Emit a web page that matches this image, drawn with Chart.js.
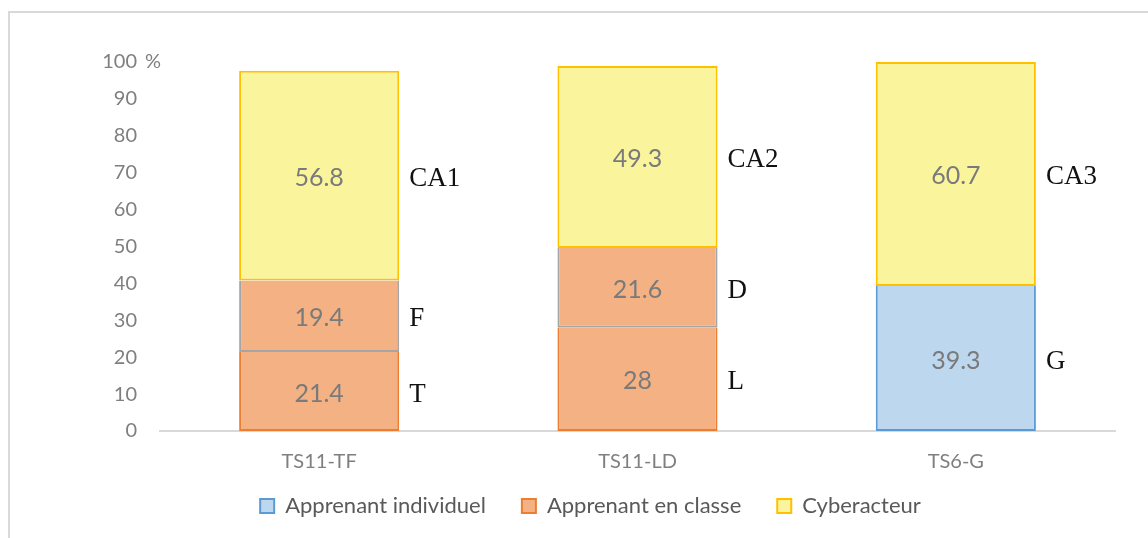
<!DOCTYPE html>
<html>
<head>
<meta charset="utf-8">
<script src="https://cdn.jsdelivr.net/npm/chart.js@4"></script>
<style>
  html, body { margin: 0; padding: 0; background: #fff; }
  #wrap { position: relative; width: 1148px; height: 538px; }
  #frame { position: absolute; left: 8px; top: 11px; right: 0; bottom: 0;
           border-top: 2px solid #d9d9d9; border-left: 2px solid #d9d9d9; }
  canvas { position: absolute; left: 0; top: 0; }
</style>
</head>
<body>
<div id="wrap">
  <div id="frame"></div>
  <canvas id="chart" width="1148" height="538"></canvas>
</div>
<script>
// categories
const groups = ["TS11-TF", "TS11-LD", "TS6-G"];

// series values (%), null = no segment
const individuel = [null, null, 39.3];
const classeBas = [21.4, 28, null];
const classeHaut = [19.4, 21.6, null];
const cyber = [56.8, 49.3, 60.7];

// side notes next to each segment
const notesIndividuel = ["", "", "G"];
const notesClasseBas = ["T", "L", ""];
const notesClasseHaut = ["F", "D", ""];
const notesCyber = ["CA1", "CA2", "CA3"];

const legendNames = ["Apprenant individuel", "Apprenant en classe", "Cyberacteur"];

const tickGrey = "#7f7f7f";

// value inside the segment, note letters to the right of it
const segmentText = {
    id: "segmentText",
    afterDatasetsDraw(chart) {
        const ctx = chart.ctx;
        ctx.save();
        chart.data.datasets.forEach((ds, i) => {
            const meta = chart.getDatasetMeta(i);
            meta.data.forEach((bar, j) => {
                const v = ds.data[j];
                if (v == null) return;
                const mid = (bar.y + bar.base) / 2;
                ctx.font = "25px Lato";
                ctx.fillStyle = "#7a7a7a";
                ctx.textAlign = "center";
                ctx.textBaseline = "middle";
                ctx.fillText(String(v), bar.x, mid + 2);
                const note = ds.notes[j];
                if (note) {
                    ctx.font = "27px 'Liberation Serif'";
                    ctx.fillStyle = "#111111";
                    ctx.textAlign = "left";
                    ctx.fillText(note, bar.x + bar.width / 2 + 10, mid + 3);
                }
            });
        });
        ctx.restore();
    },
};

// the "%" after the top tick
const percentMark = {
    id: "percentMark",
    afterDraw(chart) {
        const y = chart.scales.y;
        const ctx = chart.ctx;
        ctx.save();
        ctx.font = "20px Lato";
        ctx.fillStyle = tickGrey;
        ctx.textAlign = "left";
        ctx.textBaseline = "middle";
        ctx.fillText("%", y.right - 15, y.getPixelForValue(100));
        ctx.restore();
    },
};

// x axis is kept short so the legend sits close; let its labels draw below it
const roomForXLabels = {
    id: "roomForXLabels",
    afterLayout(chart) {
        const x = chart.scales.x;
        x.bottom = x.top + 50;
    },
};

const ctx = document.getElementById("chart").getContext("2d");
new Chart(ctx, {
    type: "bar",
    data: {
        labels: groups,
        datasets: [
            {
                label: legendNames[0],
                data: individuel,
                notes: notesIndividuel,
                backgroundColor: "#bdd7ee",
                borderColor: "#5b9bd5",
                borderWidth: 2,
                borderSkipped: "top",
            },
            {
                label: legendNames[1],
                data: classeBas,
                notes: notesClasseBas,
                backgroundColor: "#f4b183",
                borderColor: "#ed7d31",
                borderWidth: 2,
                borderSkipped: "top",
            },
            {
                label: legendNames[1],
                data: classeHaut,
                notes: notesClasseHaut,
                backgroundColor: "#f4b183",
                borderColor: "#a5a5a5",
                borderWidth: 2,
                borderSkipped: "top",
                hideInLegend: true,
            },
            {
                label: legendNames[2],
                data: cyber,
                notes: notesCyber,
                backgroundColor: "#faf59c",
                borderColor: "#ffc000",
                borderWidth: 2,
                borderSkipped: false,
            },
        ],
    },
    options: {
        responsive: false,
        animation: false,
        categoryPercentage: 1,
        barPercentage: 0.503,
        layout: { padding: { top: 62, right: 33, bottom: 11, left: 66 } },
        plugins: {
            tooltip: { enabled: false },
            legend: {
                position: "bottom",
                labels: {
                    boxWidth: 14,
                    boxHeight: 14,
                    padding: 36,
                    color: "#595959",
                    font: { family: "Lato", size: 22 },
                    filter: (item, data) => !data.datasets[item.datasetIndex].hideInLegend,
                },
            },
        },
        scales: {
            x: {
                stacked: true,
                grid: { display: false, drawTicks: false },
                border: { color: "#d9d9d9", width: 2 },
                ticks: { color: tickGrey, padding: 19, font: { family: "Lato", size: 20 } },
                afterFit: (scale) => { scale.height = 28; },
            },
            y: {
                stacked: true,
                min: 0,
                max: 100,
                grid: { display: false, drawTicks: false },
                border: { display: false },
                ticks: {
                    stepSize: 10,
                    color: tickGrey,
                    padding: 23,
                    font: { family: "Lato", size: 20 },
                },
                afterFit: (scale) => { scale.width = 94; },
            },
        },
    },
    plugins: [segmentText, percentMark, roomForXLabels],
});
</script>
</body>
</html>
